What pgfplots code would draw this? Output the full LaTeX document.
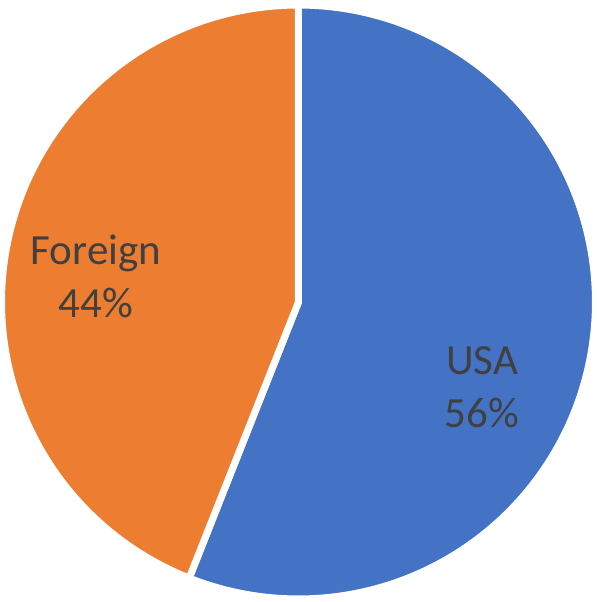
\documentclass[border=0pt]{standalone}
\usepackage{pgfplots}
\usepackage{pgfplotstable}
\pgfplotsset{compat=1.18}
\usepackage{fontspec}
\setmainfont{Carlito}
\definecolor{usablue}{HTML}{4472C4}
\definecolor{forange}{HTML}{ED7D31}
\definecolor{lbl}{HTML}{404040}
\pgfplotstableread{
name share
USA 56
Foreign 44
}\sharetable
\begin{document}%
\begin{tikzpicture}
\pgfplotstablegetelem{0}{share}\of\sharetable
\let\usashare\pgfplotsretval
\pgfplotstablegetelem{1}{share}\of\sharetable
\let\forshare\pgfplotsretval
\pgfmathsetmacro\aStart{90}
\pgfmathsetmacro\aMid{90-3.6*\usashare}
\pgfmathsetmacro\aEnd{\aMid-3.6*\forshare}
\begin{axis}[
  scale only axis, width=298.5pt, height=301pt,
  xmin=0, xmax=597, ymin=0, ymax=602,
  axis lines=none, ticks=none, clip=false,
]
\addplot[fill=usablue, draw=white, line width=3.5pt, line join=miter, domain=\aMid:\aStart, samples=160, variable=\t]
  ({298.5+297*cos(\t)}, {300+297*sin(\t)}) -- (axis cs:298.5,300) -- cycle;
\addplot[fill=forange, draw=white, line width=3.5pt, line join=miter, domain=\aEnd:\aMid, samples=160, variable=\t]
  ({298.5+297*cos(\t)}, {300+297*sin(\t)}) -- (axis cs:298.5,300) -- cycle;
\node[align=center, text=lbl, font=\fontsize{21.5}{26.5}\selectfont] at (axis cs:96,326) {Foreign\\44\%};
\node[align=center, text=lbl, font=\fontsize{21.5}{26.5}\selectfont] at (axis cs:482,215) {USA\\56\%};
\coordinate (bbsw) at (rel axis cs:0,0);
\coordinate (bbne) at (rel axis cs:1,1);
\end{axis}
\pgfresetboundingbox
\path (bbsw) rectangle (bbne);
\end{tikzpicture}%
\end{document}
